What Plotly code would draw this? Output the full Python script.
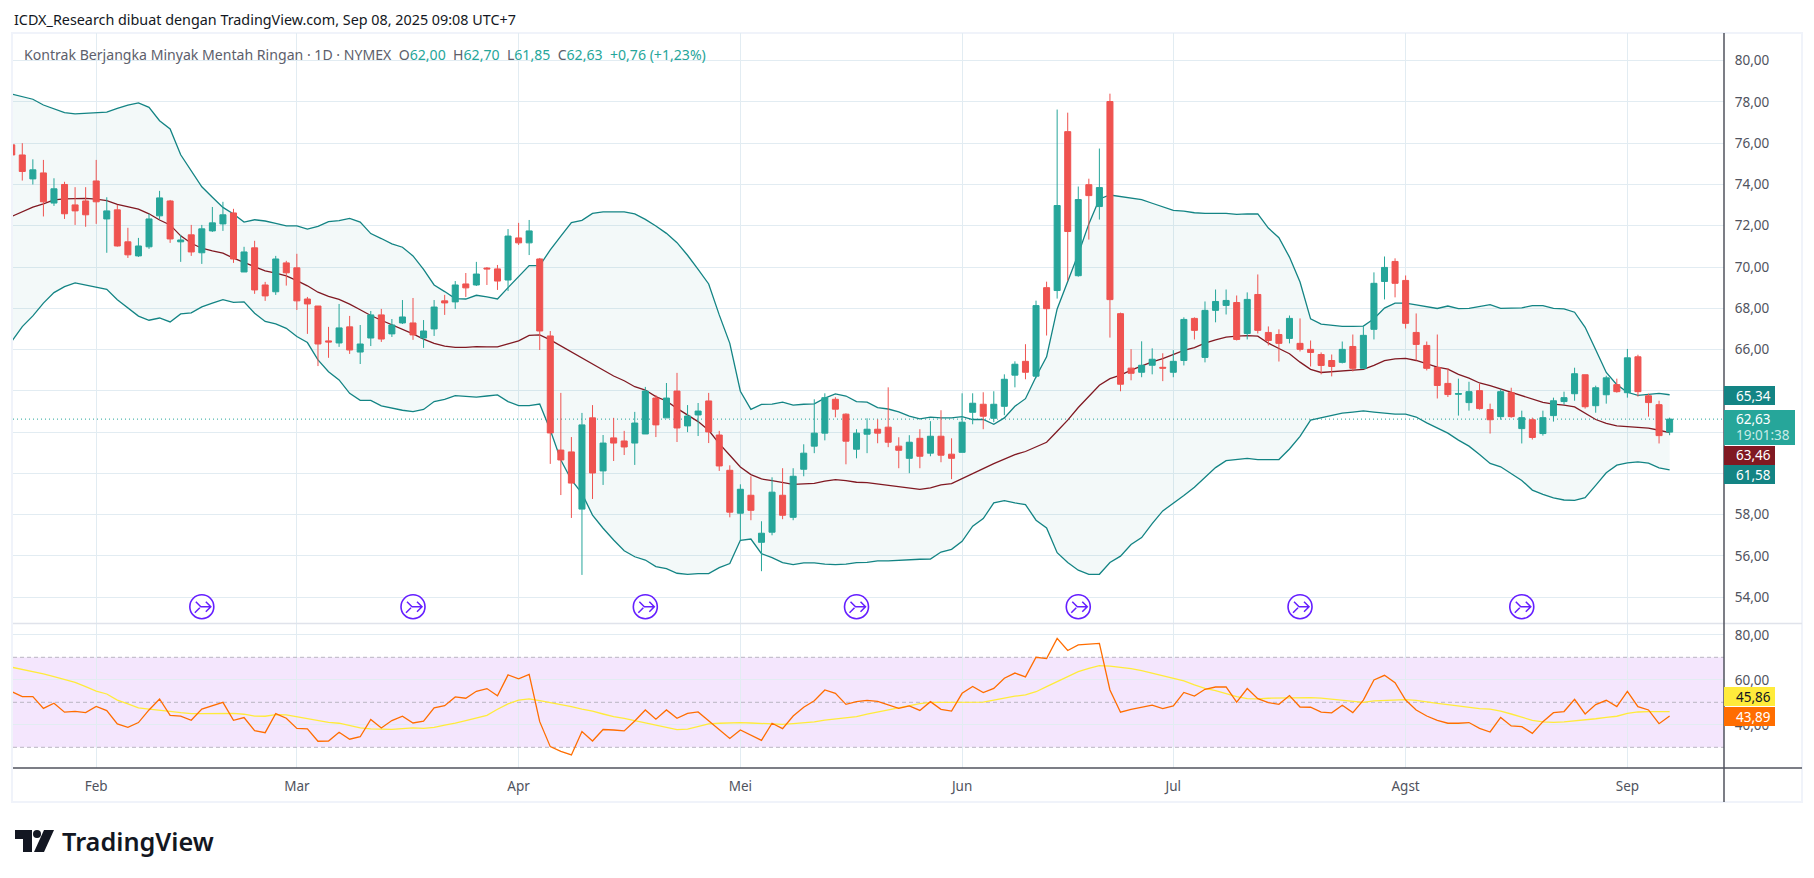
import plotly.graph_objects as go

# Daily bars of the crude contract, Jan 22 to Sep 8 2025 (index = trading bar)
open_prices = [
    75.92, 75.43, 74.27, 74.56, 73.10, 74.00, 73.01, 73.20, 74.17, 72.33,
    72.77, 71.22, 70.54, 70.98, 72.48, 73.20, 71.22, 71.56, 70.69, 71.75,
    72.09, 72.62, 69.76, 70.93, 69.13, 68.80, 70.20, 69.96, 68.45, 68.11,
    66.42, 66.32, 67.10, 65.88, 66.56, 67.68, 66.76, 67.29, 67.29, 66.56,
    67.00, 68.36, 68.31, 69.18, 69.13, 69.95, 69.91, 69.37, 71.41, 71.17,
    70.39, 66.66, 61.13, 61.04, 58.27, 62.69, 60.12, 61.72, 61.57, 61.47,
    61.91, 63.65, 62.69, 63.99, 62.30, 62.83, 63.51, 61.86, 60.15, 58.07,
    58.94, 56.66, 57.15, 58.94, 57.87, 60.20, 61.32, 61.95, 63.59, 62.87,
    61.17, 61.90, 62.14, 62.24, 61.32, 60.73, 61.70, 60.98, 61.80, 60.93,
    61.02, 62.96, 63.35, 62.67, 63.25, 64.76, 65.43, 64.71, 69.00, 68.86,
    76.56, 69.58, 73.99, 72.93, 78.02, 67.74, 65.10, 64.90, 65.24, 65.14,
    64.90, 65.47, 67.51, 65.62, 67.90, 68.14, 68.28, 66.78, 68.67, 66.83,
    66.73, 66.54, 66.30, 66.01, 65.76, 65.47, 65.38, 66.15, 65.09, 66.98,
    69.30, 70.27, 69.35, 66.83, 66.20, 65.13, 64.36, 63.83, 63.43, 64.01,
    63.09, 62.75, 63.91, 62.17, 62.60, 61.93, 62.80, 63.48, 63.86, 64.78,
    63.28, 63.81, 64.30, 63.91, 65.65, 63.76, 63.33, 62.00,
]
close_prices = [
    75.43, 74.63, 74.71, 73.16, 73.79, 72.58, 72.72, 72.53, 73.16, 72.72,
    71.02, 70.59, 71.02, 72.33, 73.35, 71.36, 71.31, 70.73, 71.85, 72.14,
    72.53, 70.39, 70.73, 68.89, 68.60, 70.39, 69.72, 68.36, 68.21, 66.27,
    66.37, 67.05, 65.98, 66.27, 67.68, 66.51, 67.19, 67.58, 66.71, 66.90,
    68.06, 68.26, 69.13, 68.99, 69.66, 69.91, 69.32, 71.50, 71.17, 71.75,
    66.90, 61.96, 60.65, 59.53, 62.35, 60.02, 61.47, 61.47, 61.28, 62.44,
    63.99, 62.35, 63.65, 62.20, 62.78, 63.02, 62.01, 60.36, 58.12, 59.23,
    58.21, 57.10, 59.09, 57.97, 59.86, 60.98, 61.95, 63.67, 63.11, 61.56,
    61.95, 62.14, 61.95, 61.51, 61.12, 61.51, 60.83, 61.80, 60.88, 60.73,
    62.48, 63.40, 62.77, 63.35, 64.56, 65.29, 64.90, 68.13, 67.98, 72.98,
    71.72, 73.27, 73.46, 73.85, 68.42, 64.32, 64.85, 65.24, 65.53, 65.10,
    65.43, 67.46, 66.93, 67.90, 68.33, 68.38, 66.49, 68.43, 66.93, 66.44,
    66.30, 67.51, 66.01, 65.86, 65.23, 65.18, 66.01, 65.09, 66.69, 69.21,
    69.98, 69.21, 67.27, 66.25, 65.09, 64.26, 63.82, 63.87, 63.96, 63.14,
    62.60, 63.96, 62.75, 62.70, 61.74, 62.70, 63.52, 63.67, 64.83, 63.23,
    64.15, 64.63, 63.96, 65.60, 63.96, 63.43, 61.83, 62.63,
]
high_prices = [
    76.10, 76.00, 75.22, 75.19, 74.30, 74.13, 73.87, 73.87, 75.19, 73.38,
    73.01, 71.90, 71.41, 72.58, 73.69, 73.25, 71.56, 72.04, 72.04, 72.91,
    73.16, 72.82, 70.98, 71.27, 69.28, 70.54, 70.30, 70.64, 68.55, 68.11,
    67.10, 68.21, 67.63, 67.19, 67.87, 67.97, 67.48, 68.40, 68.50, 67.43,
    68.40, 68.65, 69.32, 69.71, 70.25, 70.00, 70.10, 71.84, 72.14, 72.28,
    70.44, 66.90, 63.90, 61.76, 62.93, 63.31, 61.86, 62.69, 62.06, 62.98,
    64.19, 63.80, 64.38, 64.87, 63.31, 63.41, 63.90, 62.06, 60.39, 59.47,
    59.86, 57.68, 59.81, 60.25, 60.25, 61.41, 63.59, 63.88, 63.69, 62.91,
    62.14, 62.67, 62.62, 64.17, 61.75, 61.85, 62.14, 62.53, 63.06, 61.70,
    63.88, 63.88, 63.93, 63.98, 64.80, 65.43, 66.26, 68.37, 69.29, 77.63,
    77.48, 73.90, 74.28, 75.74, 78.40, 67.79, 66.02, 66.40, 66.06, 65.82,
    65.97, 67.56, 67.56, 68.33, 68.91, 68.91, 68.62, 68.77, 69.64, 67.12,
    66.98, 67.65, 67.51, 66.44, 65.86, 65.76, 66.39, 66.73, 67.17, 69.74,
    70.51, 70.42, 69.59, 67.75, 66.39, 66.73, 65.10, 64.59, 64.44, 64.34,
    63.38, 64.10, 64.15, 63.04, 62.70, 63.04, 63.67, 63.96, 65.12, 64.78,
    64.25, 64.73, 64.59, 66.03, 65.75, 63.86, 63.52, 62.70,
]
low_prices = [
    75.43, 74.19, 74.00, 72.45, 72.96, 72.33, 72.04, 71.95, 72.09, 70.69,
    70.99, 70.44, 70.49, 70.88, 72.33, 71.17, 70.25, 70.54, 70.15, 71.70,
    71.75, 70.20, 69.76, 68.70, 68.36, 68.65, 69.10, 67.92, 66.76, 65.20,
    65.60, 66.13, 65.79, 65.30, 66.17, 66.37, 66.61, 67.24, 66.47, 66.08,
    66.66, 67.68, 67.97, 68.55, 69.08, 69.13, 68.89, 68.84, 71.07, 70.58,
    65.98, 60.46, 58.95, 57.84, 55.08, 58.76, 59.44, 60.60, 60.89, 60.41,
    61.91, 61.76, 62.69, 61.52, 62.00, 61.81, 61.47, 60.12, 57.87, 56.76,
    57.73, 55.26, 57.00, 57.78, 57.73, 59.86, 60.98, 61.60, 62.72, 60.44,
    60.73, 60.98, 61.46, 61.27, 60.25, 60.01, 60.25, 60.83, 60.54, 59.72,
    61.02, 62.38, 62.14, 62.48, 62.82, 64.17, 64.56, 64.61, 66.68, 68.47,
    69.34, 69.53, 71.33, 72.30, 66.58, 63.98, 64.51, 64.66, 64.80, 64.47,
    64.66, 65.23, 66.49, 65.38, 67.32, 67.70, 66.44, 66.49, 66.78, 66.20,
    65.42, 66.30, 65.91, 65.18, 64.80, 64.70, 65.33, 64.94, 65.09, 66.49,
    68.43, 68.53, 67.02, 65.47, 64.99, 63.63, 63.70, 62.80, 63.04, 63.09,
    61.93, 62.60, 62.70, 61.45, 61.64, 61.83, 62.51, 63.33, 63.52, 63.14,
    62.94, 63.38, 63.91, 63.67, 63.72, 62.75, 61.45, 61.85,
]

# Bollinger bands
bb_upper = [
    78.38, 78.26, 78.13, 77.85, 77.66, 77.48, 77.42, 77.45, 77.46, 77.51,
    77.69, 77.85, 77.95, 77.74, 77.09, 76.69, 75.44, 74.67, 73.89, 73.38,
    72.89, 72.57, 72.18, 72.29, 72.23, 72.12, 71.99, 71.99, 71.84, 71.97,
    72.20, 72.25, 72.36, 72.18, 71.62, 71.38, 71.12, 70.96, 70.54, 69.89,
    69.13, 68.81, 68.47, 68.45, 68.63, 68.55, 68.45, 69.00, 69.52, 70.07,
    70.07, 70.83, 71.50, 72.15, 72.26, 72.60, 72.67, 72.67, 72.67, 72.57,
    72.31, 71.99, 71.63, 71.18, 70.57, 69.89, 69.18, 67.68, 66.30, 63.98,
    63.10, 63.34, 63.36, 63.45, 63.31, 63.35, 63.37, 63.65, 63.85, 63.75,
    63.48, 63.45, 63.19, 63.12, 62.98, 62.77, 62.64, 62.73, 62.69, 62.69,
    62.75, 62.61, 62.61, 62.38, 62.69, 63.25, 63.62, 64.68, 65.65, 67.97,
    69.26, 70.63, 72.09, 73.30, 73.49, 73.41, 73.33, 73.27, 73.09, 72.91,
    72.74, 72.71, 72.63, 72.60, 72.60, 72.60, 72.55, 72.58, 72.57, 71.89,
    71.42, 70.48, 69.27, 67.49, 67.23, 67.17, 67.12, 67.12, 67.14, 67.49,
    68.01, 68.25, 68.25, 68.17, 68.09, 67.99, 68.11, 67.98, 68.00, 68.08,
    68.18, 68.00, 68.00, 68.02, 68.13, 68.13, 68.00, 67.97, 67.81, 67.08,
    65.99, 64.89, 64.30, 63.93, 63.78, 63.83, 63.88, 63.81,
]
bb_basis = [
    72.45, 72.69, 72.90, 73.06, 73.25, 73.30, 73.33, 73.33, 73.29, 73.22,
    73.04, 72.93, 72.80, 72.58, 72.28, 72.04, 71.51, 71.15, 70.91, 70.78,
    70.67, 70.43, 70.22, 70.02, 69.81, 69.70, 69.57, 69.34, 69.09, 68.78,
    68.58, 68.43, 68.20, 67.93, 67.65, 67.42, 67.20, 67.00, 66.76, 66.51,
    66.30, 66.17, 66.11, 66.11, 66.14, 66.13, 66.13, 66.27, 66.42, 66.69,
    66.71, 66.47, 66.17, 65.87, 65.58, 65.27, 65.01, 64.72, 64.49, 64.20,
    64.04, 63.72, 63.51, 63.15, 62.83, 62.51, 62.09, 61.44, 60.88, 60.31,
    59.94, 59.73, 59.65, 59.57, 59.47, 59.49, 59.52, 59.62, 59.70, 59.65,
    59.57, 59.55, 59.49, 59.44, 59.38, 59.30, 59.23, 59.30, 59.44, 59.50,
    59.75, 60.02, 60.23, 60.47, 60.69, 60.91, 61.06, 61.28, 61.51, 62.04,
    62.58, 63.19, 63.75, 64.27, 64.59, 64.76, 65.00, 65.20, 65.40, 65.56,
    65.75, 65.96, 66.09, 66.31, 66.47, 66.60, 66.65, 66.68, 66.65, 66.31,
    66.05, 65.80, 65.39, 65.04, 64.89, 64.92, 64.97, 64.99, 65.04, 65.23,
    65.46, 65.55, 65.57, 65.47, 65.31, 65.15, 65.05, 64.80, 64.62, 64.38,
    64.25, 64.09, 63.90, 63.74, 63.58, 63.44, 63.36, 63.31, 63.22, 62.93,
    62.61, 62.42, 62.30, 62.27, 62.22, 62.19, 62.09, 61.98,
]
bb_lower = [
    66.40, 67.11, 67.63, 68.25, 68.76, 69.05, 69.23, 69.13, 69.02, 68.92,
    68.41, 68.00, 67.62, 67.42, 67.53, 67.34, 67.73, 67.78, 68.07, 68.25,
    68.42, 68.29, 68.31, 67.76, 67.36, 67.24, 67.03, 66.63, 66.34, 65.50,
    64.93, 64.53, 63.88, 63.54, 63.54, 63.27, 63.15, 63.06, 62.99, 63.10,
    63.48, 63.59, 63.77, 63.75, 63.70, 63.75, 63.80, 63.48, 63.28, 63.28,
    63.36, 62.10, 60.65, 59.68, 59.03, 57.98, 57.34, 56.77, 56.25, 55.96,
    55.80, 55.48, 55.38, 55.16, 55.11, 55.14, 55.14, 55.43, 55.63, 56.76,
    56.82, 56.11, 55.92, 55.68, 55.58, 55.66, 55.66, 55.60, 55.58, 55.60,
    55.68, 55.69, 55.76, 55.76, 55.79, 55.84, 55.84, 55.85, 56.19, 56.32,
    56.71, 57.44, 57.81, 58.57, 58.68, 58.57, 58.49, 57.73, 57.36, 56.16,
    55.68, 55.31, 55.11, 55.11, 55.68, 55.99, 56.55, 56.89, 57.57, 58.18,
    58.54, 58.93, 59.33, 59.83, 60.28, 60.62, 60.67, 60.73, 60.67, 60.67,
    60.67, 61.18, 61.79, 62.58, 62.69, 62.80, 62.92, 62.97, 63.03, 62.97,
    62.92, 62.87, 62.87, 62.73, 62.45, 62.18, 61.95, 61.61, 61.32, 60.91,
    60.48, 60.32, 60.00, 59.66, 59.19, 58.98, 58.81, 58.71, 58.69, 58.82,
    59.42, 60.03, 60.40, 60.51, 60.56, 60.50, 60.27, 60.17,
]

# RSI and its moving average
rsi_values = [
    54.7, 52.5, 52.5, 47.3, 49.6, 45.6, 46.0, 45.4, 48.2, 46.3,
    40.4, 38.9, 41.0, 46.6, 51.5, 44.2, 43.9, 42.0, 47.0, 48.4,
    50.0, 42.0, 43.2, 37.4, 36.5, 45.0, 42.9, 38.4, 38.2, 32.7,
    32.8, 36.7, 33.6, 34.7, 42.4, 38.6, 41.9, 43.8, 40.8, 41.6,
    47.5, 48.5, 52.4, 51.8, 54.9, 56.1, 52.9, 62.2, 60.4, 62.4,
    41.4, 30.3, 28.2, 26.6, 37.0, 32.8, 37.9, 37.7, 37.3, 41.7,
    46.6, 42.5, 46.6, 42.9, 45.1, 45.7, 41.9, 37.7, 33.9, 37.7,
    35.5, 33.1, 40.7, 38.3, 43.9, 47.8, 50.7, 55.5, 54.0, 49.1,
    50.3, 50.9, 50.4, 49.0, 47.3, 48.4, 46.4, 50.3, 46.9, 46.1,
    54.0, 57.0, 54.3, 56.2, 60.7, 63.0, 61.3, 70.0, 69.4, 78.4,
    73.0, 75.5, 75.9, 76.2, 55.5, 45.6, 46.9, 47.8, 48.7, 47.2,
    48.4, 54.4, 52.8, 55.8, 56.8, 56.8, 50.1, 56.1, 51.6, 49.9,
    49.1, 53.0, 47.9, 47.8, 45.6, 45.3, 48.7, 45.4, 51.0, 59.9,
    62.0, 58.7, 51.0, 46.6, 43.9, 42.0, 40.7, 40.7, 41.0, 38.4,
    36.8, 43.3, 39.5, 39.2, 36.2, 41.4, 45.4, 45.9, 51.3, 44.8,
    49.0, 50.9, 48.1, 54.9, 48.1, 46.6, 40.5, 43.89,
]
rsi_ma = [
    65.6, 64.7, 63.6, 62.6, 61.4, 60.2, 58.9, 57.0, 55.0, 53.7,
    51.0, 49.3, 47.5, 47.0, 46.6, 46.0, 45.4, 45.0, 45.0, 45.1,
    45.3, 45.1, 44.7, 43.9, 43.8, 44.5, 44.4, 43.6, 42.6, 41.9,
    41.1, 40.7, 39.6, 38.6, 38.2, 38.0, 38.0, 38.3, 38.6, 38.4,
    38.9, 39.9, 40.7, 41.9, 43.0, 44.2, 46.9, 49.3, 51.0, 51.5,
    50.7, 49.9, 48.9, 48.1, 47.0, 46.1, 44.8, 43.6, 42.9, 41.9,
    41.1, 39.9, 38.9, 37.9, 38.1, 39.2, 40.4, 40.7, 41.0, 41.0,
    40.8, 40.7, 40.4, 40.2, 40.5, 40.8, 41.3, 42.1, 42.7, 43.2,
    43.6, 44.7, 45.7, 46.6, 47.5, 48.4, 49.4, 50.0, 50.0, 50.0,
    50.1, 50.1, 50.1, 51.0, 51.9, 52.7, 53.3, 54.7, 57.0, 59.2,
    61.4, 63.6, 65.1, 66.3, 66.1, 65.6, 65.0, 64.1, 62.9, 61.9,
    60.7, 59.5, 57.7, 56.2, 55.2, 53.7, 52.5, 51.6, 51.5, 51.8,
    51.9, 52.1, 52.1, 52.1, 51.9, 51.5, 51.0, 50.4, 50.0, 50.6,
    50.9, 51.2, 51.2, 50.9, 50.1, 49.5, 49.0, 48.4, 47.9, 47.2,
    47.0, 46.1, 44.8, 43.3, 42.0, 41.3, 41.1, 41.3, 41.7, 42.0,
    42.7, 43.3, 43.8, 45.1, 45.7, 45.9, 45.9, 45.86,
]

bars = list(range(len(open_prices)))

# First bar of each month and its label
month_bars = [8, 27, 48, 69, 90, 110, 132, 153]
month_labels = ['Feb', 'Mar', 'Apr', 'Mei', 'Jun', 'Jul', 'Agst', 'Sep']

price_ticks = list(range(54, 82, 2))
price_tick_labels = [f'{p},00' for p in price_ticks]
rsi_ticks = [40, 60, 80]
rsi_tick_labels = ['40,00', '60,00', '80,00']
rsi_levels = [70, 50, 30]

# Contract rollover markers
rollover_bars = [18, 38, 60, 80, 101, 122, 143]
rollover_level = [53.54] * len(rollover_bars)

last_close = 62.63

W = 1814
H = 878
X_RANGE = [0.12, 162.15]
GREEN = '#26a69a'
RED = '#ef5350'
BAND = '#138484'
BASIS = '#801922'
GRID = '#e2ecf2'
PURPLE = '#651fff'
TEXT = '#131722'
AXIS_TEXT = '#50535e'
FONT = 'Noto Sans'
GAP = '&nbsp;&nbsp;'


def fx(px):
    return px / W


def fy(px):
    return 1 - px / H


def rect_shape(x0, y0, x1, y1, fill, line=None, layer='above'):
    return dict(type='rect', xref='paper', yref='paper', x0=fx(x0), x1=fx(x1), y0=fy(y0), y1=fy(y1),
                fillcolor=fill, line=dict(width=0 if line is None else 2, color=line), layer=layer)


def hline_shape(x0, x1, y, color, width=1):
    return dict(type='line', xref='paper', yref='paper', x0=fx(x0), x1=fx(x1), y0=fy(y), y1=fy(y),
                line=dict(color=color, width=width), layer='above')


def label(x, y, text, size, color, anchor='left', **kw):
    return dict(xref='paper', yref='paper', x=fx(x), y=fy(y), text=text, showarrow=False,
                xanchor=anchor, yanchor='middle', font=dict(family=FONT, size=size, color=color, **kw),
                borderpad=0)


fig = go.Figure()

# Bollinger bands go on the base axis so the candles can sit above them
fig.add_trace(go.Scatter(x=bars, y=bb_upper, mode='lines', line=dict(color=BAND, width=1.3), xaxis='x', yaxis='y'))
fig.add_trace(go.Scatter(x=bars, y=bb_lower, mode='lines', line=dict(color=BAND, width=1.3), fill='tonexty',
                         fillcolor='rgba(19,132,132,0.05)', xaxis='x', yaxis='y'))
fig.add_trace(go.Scatter(x=bars, y=bb_basis, mode='lines', line=dict(color=BASIS, width=1.3), xaxis='x', yaxis='y'))

fig.add_trace(go.Candlestick(
    x=bars, open=open_prices, high=high_prices, low=low_prices, close=close_prices,
    increasing=dict(line=dict(color=GREEN, width=1), fillcolor=GREEN),
    decreasing=dict(line=dict(color=RED, width=1), fillcolor=RED),
    whiskerwidth=0, xaxis='x', yaxis='y3'))

fig.add_trace(go.Scatter(x=rollover_bars, y=rollover_level, mode='markers',
                         marker=dict(symbol='circle', size=24, color='white', line=dict(color=PURPLE, width=1.6)),
                         xaxis='x', yaxis='y3'))

fig.add_trace(go.Scatter(x=bars, y=rsi_ma, mode='lines', line=dict(color='#ffeb3b', width=1.3), xaxis='x2', yaxis='y2'))
fig.add_trace(go.Scatter(x=bars, y=rsi_values, mode='lines', line=dict(color='#ff6d00', width=1.3), xaxis='x2', yaxis='y2'))

shapes = []

# Outer frame and pane separators
shapes.append(rect_shape(12, 33, 1802, 802, 'rgba(0,0,0,0)', line='#f0f3fa', layer='below'))

# RSI band and its levels
shapes.append(dict(type='rect', xref='x2', yref='y2', x0=X_RANGE[0], x1=X_RANGE[1], y0=30, y1=70,
                   fillcolor='#f4e6fd', line=dict(width=0), layer='below'))
for level in rsi_levels:
    shapes.append(dict(type='line', xref='x2', yref='y2', x0=X_RANGE[0], x1=X_RANGE[1], y0=level, y1=level,
                       line=dict(color='#b9b6c2', width=1, dash='4px,3px'), layer='between'))

# Last price line
shapes.append(dict(type='line', xref='x', yref='y', x0=X_RANGE[0], x1=X_RANGE[1], y0=last_close, y1=last_close,
                   line=dict(color=GREEN, width=1, dash='1px,3px'), layer='between'))

shapes.append(hline_shape(13, 1802, 623.5, '#e0e3eb', 1.5))
shapes.append(hline_shape(13, 1802, 768, '#50535e', 1.5))
shapes.append(dict(type='line', xref='paper', yref='paper', x0=fx(1724), x1=fx(1724), y0=fy(33), y1=fy(802),
                   line=dict(color='#50535e', width=1.5), layer='above'))

# Arrows inside the rollover markers
for bar in rollover_bars:
    shapes.append(dict(type='path', xref='x', yref='y3', xsizemode='pixel', ysizemode='pixel',
                       xanchor=bar, yanchor=rollover_level[0],
                       path='M-6,5 L-1,0 L9,0 M4,5 L9,0 L4,-5 M-2,-1 L-7,-6',
                       line=dict(color=PURPLE, width=1.5), fillcolor='rgba(0,0,0,0)', layer='above'))

# Value tags on the price scale
shapes.append(rect_shape(1724, 386, 1775, 405, BAND))
shapes.append(rect_shape(1724, 410, 1795, 445, GREEN))
shapes.append(rect_shape(1724, 446, 1775, 465, BASIS))
shapes.append(rect_shape(1724, 465, 1775, 484, BAND))
shapes.append(rect_shape(1724, 687, 1775, 706, '#ffeb3b'))
shapes.append(rect_shape(1724, 707, 1775, 726, '#ff6d00'))

# TradingView logo
logo_t = f'M{fx(15)},{fy(830)} L{fx(32)},{fy(830)} L{fx(32)},{fy(852)} L{fx(23)},{fy(852)} L{fx(23)},{fy(839)} L{fx(15)},{fy(839)} Z'
logo_v = f'M{fx(44)},{fy(830)} L{fx(54)},{fy(830)} L{fx(44)},{fy(852)} L{fx(34)},{fy(852)} Z'
for logo_path in [logo_t, logo_v]:
    shapes.append(dict(type='path', xref='paper', yref='paper', path=logo_path,
                       fillcolor=TEXT, line=dict(width=0), layer='above'))
shapes.append(dict(type='circle', xref='paper', yref='paper', x0=fx(33), x1=fx(41), y0=fy(830), y1=fy(838),
                   fillcolor=TEXT, line=dict(width=0), layer='above'))

legend_text = (
    f'Kontrak Berjangka Minyak Mentah Ringan · 1D · NYMEX{GAP}'
    f'O<span style="color:{GREEN}">62,00</span>{GAP}H<span style="color:{GREEN}">62,70</span>{GAP}'
    f'L<span style="color:{GREEN}">61,85</span>{GAP}C<span style="color:{GREEN}">62,63</span>{GAP}'
    f'<span style="color:{GREEN}">+0,76 (+1,23%)</span>'
)

annotations = [
    label(13, 20, 'ICDX_Research dibuat dengan TradingView.com, Sep 08, 2025 09:08 UTC+7', 14.35, TEXT),
    label(23, 54, legend_text, 14.1, '#5d606b'),
    label(1735, 395.5, '65,34', 13.5, 'white'),
    label(1735, 419, '62,63', 13.5, 'white'),
    label(1735, 435, '19:01:38', 13.5, '#c8ebe7'),
    label(1735, 455.5, '63,46', 13.5, 'white'),
    label(1735, 474.5, '61,58', 13.5, 'white'),
    label(1735, 696.5, '45,86', 13.5, TEXT),
    label(1735, 716.5, '43,89', 13.5, 'white'),
    label(61, 841, 'TradingView', 25.3, TEXT, weight=600),
]

axis_common = dict(range=X_RANGE, domain=[fx(13), fx(1724)], tickmode='array', tickvals=month_bars,
                   showgrid=True, gridcolor=GRID, gridwidth=1, zeroline=False, showline=False)

fig.update_layout(
    width=W, height=H, margin=dict(l=0, r=0, t=0, b=0), autosize=False,
    paper_bgcolor='white', plot_bgcolor='white', showlegend=False, hovermode=False,
    boxgap=0.43, boxgroupgap=0,
    font=dict(family=FONT, color=AXIS_TEXT, size=13.5),
    xaxis=dict(anchor='y', showticklabels=False, rangeslider=dict(visible=False), **axis_common),
    xaxis2=dict(anchor='y2', ticktext=month_labels, ticks='outside', ticklen=6, tickcolor='rgba(0,0,0,0)',
                tickfont=dict(family=FONT, size=13.5, color=AXIS_TEXT), **axis_common),
    yaxis=dict(domain=[fy(623), fy(33)], range=[52.75, 81.34], side='right', anchor='x', tickmode='array',
               tickvals=price_ticks, ticktext=price_tick_labels, showgrid=True, gridcolor=GRID, zeroline=False,
               ticks='outside', ticklen=7, tickcolor='rgba(0,0,0,0)'),
    yaxis2=dict(domain=[fy(768), fy(624)], range=[20.8, 84.8], side='right', anchor='x2', tickmode='array',
                tickvals=rsi_ticks, ticktext=rsi_tick_labels, showgrid=True, gridcolor=GRID, zeroline=False,
                ticks='outside', ticklen=7, tickcolor='rgba(0,0,0,0)'),
    yaxis3=dict(overlaying='y', anchor='x', side='right', range=[52.75, 81.34], visible=False),
    shapes=shapes,
    annotations=annotations,
)

fig.write_html("out.html", config={'displayModeBar': False}, post_script="document.body.style.margin='0';")
